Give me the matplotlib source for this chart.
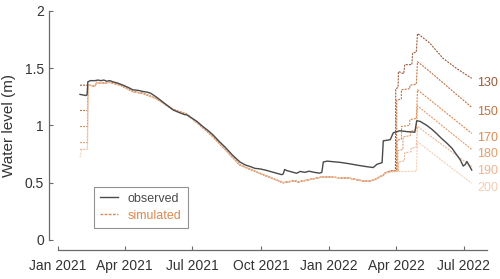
import numpy as np
import matplotlib
matplotlib.use("Agg")
import matplotlib.pyplot as plt
from matplotlib.lines import Line2D

plt.rcParams['font.family'] = ['Liberation Sans', 'DejaVu Sans']

START = np.datetime64('2021-01-01')

# observed water level: days since 2021-01-01, level (m)
obs_day = [30, 34, 38, 39.5, 40.5, 44, 50, 54, 58, 62, 66, 70, 74, 80, 88, 95, 101, 108, 115, 120,
           125, 133, 140, 148, 155, 162, 170, 174, 180, 187, 195, 202, 209, 217, 225, 235, 245, 252,
           259, 265, 272, 279, 290, 301, 303, 305, 308, 314, 321, 326, 332, 338, 345, 352, 355, 357,
           362, 370, 380, 392, 405, 415, 424, 429, 436, 437.6, 447, 451, 460, 470, 480, 482.5, 487,
           496, 503, 509, 516, 523, 530, 536, 541, 545, 548, 550, 553, 556.5]
obs_val = [1.27, 1.265, 1.26, 1.27, 1.38, 1.39, 1.39, 1.395, 1.39, 1.395, 1.385, 1.39, 1.38, 1.37,
           1.35, 1.33, 1.31, 1.305, 1.295, 1.29, 1.28, 1.245, 1.21, 1.17, 1.135, 1.115, 1.095, 1.09,
           1.065, 1.035, 0.99, 0.955, 0.915, 0.86, 0.81, 0.74, 0.68, 0.655, 0.64, 0.625, 0.62, 0.61,
           0.59, 0.57, 0.575, 0.615, 0.605, 0.595, 0.582, 0.598, 0.59, 0.6, 0.59, 0.583, 0.59, 0.68,
           0.688, 0.683, 0.677, 0.665, 0.65, 0.64, 0.632, 0.66, 0.675, 0.865, 0.875, 0.935, 0.953,
           0.945, 0.94, 1.04, 1.035, 1.0, 0.965, 0.93, 0.885, 0.845, 0.8, 0.745, 0.7, 0.645, 0.66,
           0.685, 0.65, 0.61]

# simulated: shared trajectory for all scenarios
sim_common_day = [40.7, 50, 52.4, 57, 70, 84, 101.6, 115, 133, 155, 173, 191, 209, 225, 245, 272,
                  303, 319, 323, 357, 393, 411, 420, 427, 433, 438]
sim_common_val = [1.351, 1.343, 1.375, 1.366, 1.375, 1.351, 1.293, 1.279, 1.232, 1.139, 1.099,
                  1.003, 0.90, 0.79, 0.654, 0.581, 0.50, 0.517, 0.506, 0.552, 0.538, 0.514, 0.514,
                  0.529, 0.552, 0.567]

scenarios = ['130', '150', '170', '180', '190', '200']
sim_start_val = [1.35, 1.13, 0.99, 0.85, 0.79, 0.72]

tail_day = {
    '130': [440, 446, 454, 454.3, 457.5, 458, 465, 466.5, 476, 477, 482, 483.6, 486, 499.7, 518, 536, 556.5],
    '150': [440, 446, 455.5, 455.7, 461.8, 462, 473.3, 473.5, 482, 483.6, 500, 518, 536, 556.5],
    '170': [440, 447, 456, 456.2, 462, 462.2, 473, 473.3, 482, 483.6, 556.5],
    '180': [440, 449, 457, 457.2, 464, 464.2, 474, 474.2, 482, 483.6, 556.5],
    '190': [440, 450, 458, 458.2, 466, 466.2, 475, 475.2, 482, 483.6, 556.5],
    '200': [440, 452, 482, 483.6, 556.5],
}
tail_val = {
    '130': [0.585, 0.60, 0.605, 1.32, 1.33, 1.47, 1.45, 1.53, 1.53, 1.63, 1.64, 1.80, 1.79, 1.72, 1.584, 1.497, 1.41],
    '150': [0.585, 0.60, 0.605, 1.22, 1.23, 1.31, 1.32, 1.35, 1.36, 1.555, 1.47, 1.37, 1.27, 1.157],
    '170': [0.585, 0.60, 0.61, 0.87, 0.88, 0.99, 1.0, 1.05, 1.06, 1.31, 0.93],
    '180': [0.585, 0.60, 0.60, 0.78, 0.79, 0.90, 0.91, 0.95, 0.96, 1.17, 0.79],
    '190': [0.585, 0.60, 0.60, 0.68, 0.69, 0.76, 0.77, 0.80, 0.81, 0.99, 0.64],
    '200': [0.585, 0.595, 0.60, 0.857, 0.494],
}
colors = ['#9a5a3a', '#c07442', '#d98a52', '#e39c6c', '#ecb592', '#f3cdb4']

yticks = [0, 0.5, 1, 1.5, 2]
ytick_labels = ['0', '0.5', '1', '1.5', '2']
xtick_dates = ['2021-01-01', '2021-04-01', '2021-07-01', '2021-10-01', '2022-01-01', '2022-04-01', '2022-07-01']
xtick_labels = ['Jan 2021', 'Apr 2021', 'Jul 2021', 'Oct 2021', 'Jan 2022', 'Apr 2022', 'Jul 2022']


def to_dates(days):
    return START + (np.array(days) * 24 * 3600).astype('timedelta64[s]')


fig = plt.figure(figsize=(5.0, 2.79), dpi=100)
ax = fig.add_axes([0.1154, 0.1398, 0.974 - 0.1154, 0.9616 - 0.1398])

spine_col = '#6a6a6a'
text_col = '#333333'

for i, sc in enumerate(scenarios):
    d = [30, 32, 40, 40.5] + sim_common_day + tail_day[sc]
    s0 = sim_start_val[i]
    s1 = 0.79 if sc == '200' else s0
    v = [s0, s1, s1, 1.35] + sim_common_val + tail_val[sc]
    ax.plot(to_dates(d), v, color=colors[i], lw=0.8, ls=(0, (1.8, 1)))
    ax.annotate(sc, xy=(to_dates([d[-1]])[0], v[-1]), xytext=(4, -3), textcoords='offset points',
                color=colors[i], fontsize=9, va='center', ha='left', annotation_clip=False)

ax.plot(to_dates(obs_day), obs_val, color='#4a4a4a', lw=1.0)

ax.set_ylim(0, 2)
ax.set_xlim(to_dates([0])[0], to_dates([577])[0])
ax.set_yticks(yticks)
ax.set_yticklabels(ytick_labels)
ax.set_xticks(np.array([np.datetime64(d) for d in xtick_dates]).astype('datetime64[s]'))
ax.set_xticklabels(xtick_labels)

for s in ['top', 'right']:
    ax.spines[s].set_visible(False)
ax.spines['left'].set_position(('outward', 6))
ax.spines['bottom'].set_position(('outward', 7))
for s in ['left', 'bottom']:
    ax.spines[s].set_color(spine_col)
    ax.spines[s].set_linewidth(0.9)
ax.tick_params(direction='in', length=3, width=0.8, color=spine_col, labelsize=10, labelcolor=text_col)
ax.tick_params(axis='x', pad=7)
ax.tick_params(axis='y', pad=4)
ax.set_ylabel('Water level (m)', fontsize=11, color=text_col, labelpad=6)

handles = [Line2D([], [], color='#4a4a4a', lw=1.0),
           Line2D([], [], color='#d98a52', lw=1.0, ls=(0, (2, 1)))]
leg = ax.legend(handles, ['observed', 'simulated'], loc='lower left',
                bbox_to_anchor=(94 / 500, (279 - 228) / 279), bbox_transform=fig.transFigure,
                fontsize=9, frameon=True, fancybox=False, handlelength=1.4, handletextpad=0.8,
                borderpad=0.5, labelspacing=0.4, borderaxespad=0)
leg.get_frame().set_edgecolor('#777777')
leg.get_frame().set_linewidth(0.8)
leg.get_texts()[0].set_color('#4a4a4a')
leg.get_texts()[1].set_color('#d98a52')

fig.savefig('out.png', dpi=100)
